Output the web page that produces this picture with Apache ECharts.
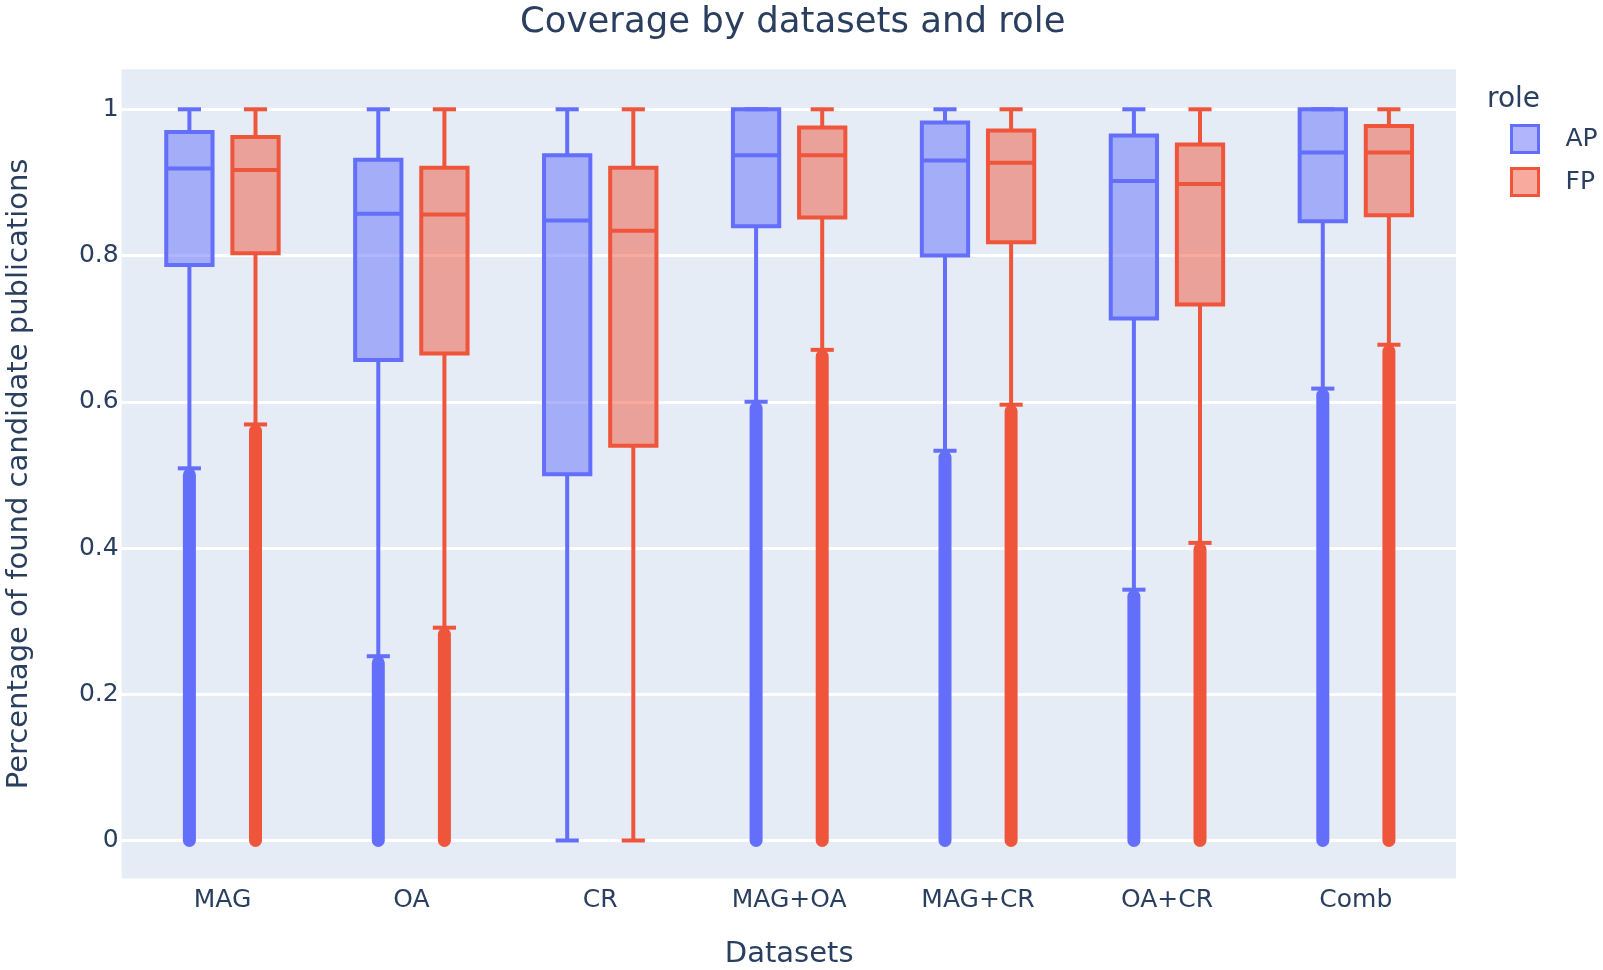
<!DOCTYPE html>
<html><head><meta charset="utf-8">
<script src="https://cdn.jsdelivr.net/npm/echarts@6/dist/echarts.min.js"></script>
<style>html,body{margin:0;padding:0;background:#fff}#c{width:1603px;height:970px}</style>
</head><body><div id="c"></div>
<script>
// ---- data ----
const categories = ['MAG', 'OA', 'CR', 'MAG+OA', 'MAG+CR', 'OA+CR', 'Comb'];
const roles = ['AP', 'FP'];
const yTicks = [0, 0.2, 0.4, 0.6, 0.8, 1];

// AP
const apWhiskerLow  = [0.509, 0.252, 0.000, 0.600, 0.533, 0.343, 0.618];
const apQ1          = [0.787, 0.657, 0.501, 0.840, 0.800, 0.714, 0.847];
const apMedian      = [0.919, 0.857, 0.848, 0.937, 0.930, 0.902, 0.941];
const apQ3          = [0.969, 0.931, 0.937, 1.000, 0.982, 0.964, 1.000];
const apWhiskerHigh = [1.000, 1.000, 1.000, 1.000, 1.000, 1.000, 1.000];
const apOutlierLow  = [0.000, 0.000, null, 0.000, 0.000, 0.000, 0.000];
const apOutlierHigh = [0.500, 0.243, null, 0.591, 0.524, 0.334, 0.609];

// FP
const fpWhiskerLow  = [0.569, 0.291, 0.000, 0.671, 0.596, 0.407, 0.678];
const fpQ1          = [0.803, 0.666, 0.540, 0.852, 0.818, 0.733, 0.855];
const fpMedian      = [0.917, 0.856, 0.834, 0.937, 0.927, 0.898, 0.941];
const fpQ3          = [0.962, 0.920, 0.920, 0.975, 0.971, 0.952, 0.977];
const fpWhiskerHigh = [1.000, 1.000, 1.000, 1.000, 1.000, 1.000, 1.000];
const fpOutlierLow  = [0.000, 0.000, null, 0.000, 0.000, 0.000, 0.000];
const fpOutlierHigh = [0.560, 0.282, null, 0.662, 0.587, 0.398, 0.669];

// ---- build ----
const FONT = 'DejaVu Sans';
const TXT = '#2a3f5f';
const AP_C = '#636efa', FP_C = '#EF553B';
const AP_F = 'rgba(99,110,250,0.5)', FP_F = 'rgba(239,85,59,0.5)';

function rows(lo, q1, md, q3, hi, oLo, oHi) {
  return categories.map((c, i) => [i, lo[i], q1[i], md[i], q3[i], hi[i],
    oLo[i] == null ? '-' : oLo[i], oHi[i] == null ? '-' : oHi[i]]);
}

function makeRender(color, fill, offsetFrac) {
  return function (params, api) {
    const i = api.value(0);
    const band = api.size([1, 0])[0];
    const cx = api.coord([i, 0])[0] + offsetFrac * band;
    const bw = band * 0.245;
    const Y = v => api.coord([i, v])[1];
    const lo = api.value(1), q1 = api.value(2), md = api.value(3), q3 = api.value(4), hi = api.value(5);
    const oLo = api.value(6), oHi = api.value(7);
    const ls = { stroke: color, lineWidth: 4, fill: null };
    const ch = [];
    ch.push({ type: 'line', shape: { x1: cx, y1: Y(q3), x2: cx, y2: Y(hi) }, style: ls });
    ch.push({ type: 'line', shape: { x1: cx, y1: Y(q1), x2: cx, y2: Y(lo) }, style: ls });
    ch.push({ type: 'line', shape: { x1: cx - bw / 4, y1: Y(hi), x2: cx + bw / 4, y2: Y(hi) }, style: ls });
    ch.push({ type: 'line', shape: { x1: cx - bw / 4, y1: Y(lo), x2: cx + bw / 4, y2: Y(lo) }, style: ls });
    ch.push({ type: 'rect', shape: { x: cx - bw / 2, y: Y(q3), width: bw, height: Y(q1) - Y(q3) },
      style: { fill: fill, stroke: color, lineWidth: 4 } });
    ch.push({ type: 'line', shape: { x1: cx - bw / 2, y1: Y(md), x2: cx + bw / 2, y2: Y(md) }, style: ls });
    if (isFinite(oLo) && isFinite(oHi)) {
      const r = 6.5;
      const top = Y(oHi) - r, bot = Y(oLo) + r;
      ch.push({ type: 'rect', shape: { x: cx - r, y: top, width: 2 * r, height: bot - top, r: r },
        style: { fill: color } });
    }
    return { type: 'group', children: ch };
  };
}

const YMIN = -0.052, YMAX = 1.0547;
const gTop = 69.3, gH = 809.2;

const chart = echarts.init(document.getElementById('c'), null, { renderer: 'canvas' });
chart.setOption({
  animation: false,
  backgroundColor: '#ffffff',
  title: {
    text: 'Coverage by datasets and role', left: 520, top: 5, padding: 0,
    textStyle: { fontFamily: FONT, fontSize: 35.5, fontWeight: 'normal', color: TXT }
  },
  legend: {
    orient: 'vertical', left: 1510, top: 124, padding: 0, itemWidth: 27, itemHeight: 27, itemGap: 13,
    icon: 'rect',
    textStyle: { fontFamily: FONT, fontSize: 25, color: TXT, padding: [0, 0, 0, 22] },
    data: [
      { name: 'AP', itemStyle: { color: AP_F, borderColor: AP_C, borderWidth: 3 } },
      { name: 'FP', itemStyle: { color: FP_F, borderColor: FP_C, borderWidth: 3 } }
    ]
  },
  graphic: [{
    type: 'text', left: 1487, top: 86,
    style: { text: 'role', font: '28px "DejaVu Sans"', fill: TXT }
  }],
  grid: [
    { left: 121.7, top: gTop, width: 1334.3, height: gH, show: true, backgroundColor: '#E5ECF6', borderWidth: 0,
      containLabel: false, outerBoundsMode: 'none' },
    { left: 128, top: gTop, width: 1322.3, height: gH, containLabel: false, outerBoundsMode: 'none' }
  ],
  xAxis: [
    { type: 'value', gridIndex: 0, min: 0, max: 1, show: false },
    {
      type: 'category', gridIndex: 1, data: categories,
      axisLine: { show: false }, axisTick: { show: false },
      axisLabel: { fontFamily: FONT, fontSize: 25, color: TXT, margin: 9 },
      name: 'Datasets', nameLocation: 'middle', nameGap: 61,
      nameTextStyle: { fontFamily: FONT, fontSize: 29, color: TXT }
    }
  ],
  yAxis: [
    {
      type: 'value', gridIndex: 0, min: YMIN, max: YMAX, splitNumber: 5,
      axisLine: { show: false }, axisTick: { show: false },
      splitLine: { show: true, showMinLine: false, showMaxLine: false, lineStyle: { color: '#ffffff', width: 3 } },
      axisLabel: {
        fontFamily: FONT, fontSize: 25, color: TXT, margin: 3, showMinLabel: false, showMaxLabel: false,
        formatter: v => yTicks.some(t => Math.abs(t - v) < 1e-6) ? String(+v.toFixed(1)) : ''
      },
      name: 'Percentage of found candidate publications', nameLocation: 'middle', nameGap: 88,
      nameTextStyle: { fontFamily: FONT, fontSize: 29, color: TXT }
    },
    { type: 'value', gridIndex: 1, min: YMIN, max: YMAX, show: false, splitLine: { show: false } }
  ],
  series: [
    {
      name: 'AP', type: 'custom', xAxisIndex: 1, yAxisIndex: 1,
      itemStyle: { color: AP_C },
      encode: { x: 0, y: [1, 2, 3, 4, 5] },
      renderItem: makeRender(AP_C, AP_F, -0.175),
      data: rows(apWhiskerLow, apQ1, apMedian, apQ3, apWhiskerHigh, apOutlierLow, apOutlierHigh)
    },
    {
      name: 'FP', type: 'custom', xAxisIndex: 1, yAxisIndex: 1,
      itemStyle: { color: FP_C },
      encode: { x: 0, y: [1, 2, 3, 4, 5] },
      renderItem: makeRender(FP_C, FP_F, 0.175),
      data: rows(fpWhiskerLow, fpQ1, fpMedian, fpQ3, fpWhiskerHigh, fpOutlierLow, fpOutlierHigh)
    }
  ]
});
</script></body></html>
